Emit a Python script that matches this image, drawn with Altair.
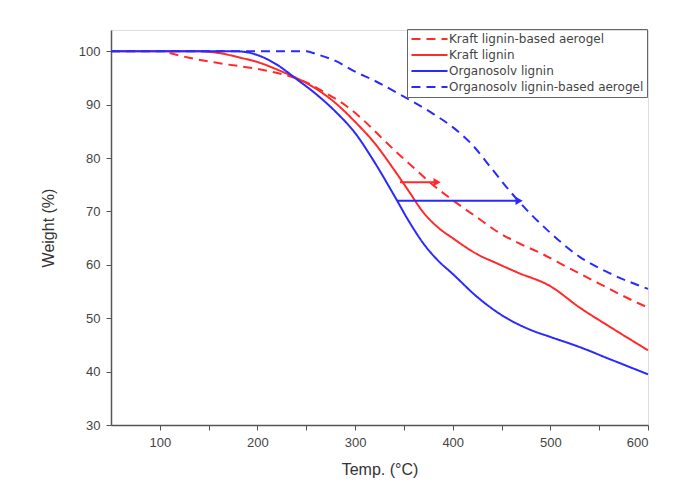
import altair as alt
import pandas as pd

series_names = ["Kraft lignin-based aerogel", "Kraft lignin", "Organosolv lignin", "Organosolv lignin-based aerogel"]
series_colors = ["#ff2a2a", "#ff2a2a", "#2a2aff", "#2a2aff"]
series_dash = [[9, 6], [1, 0], [1, 0], [9, 6]]

ka_x = [110, 130, 160, 200, 230, 250, 270, 290, 308, 325, 343, 360, 377, 395, 410, 428, 445, 466, 490, 517, 550, 589, 600]
ka_y = [99.7, 98.8, 97.8, 96.7, 95.5, 94.2, 92.2, 89.9, 87.2, 84.2, 81.0, 78.2, 75.4, 72.8, 70.8, 68.5, 66.3, 64.2, 62.2, 59.6, 56.5, 52.9, 52.0]

kl_x = [50, 140, 160, 185, 200, 220, 240, 260, 280, 300, 320, 340, 355, 370, 385, 400, 425, 445, 466, 500, 530, 560, 600]
kl_y = [100, 100, 99.7, 98.7, 98.0, 96.6, 95.0, 93.0, 90.3, 86.8, 82.8, 77.8, 73.8, 69.8, 67.0, 65.0, 62.0, 60.3, 58.6, 56.0, 52.0, 48.5, 44.0]

ol_x = [50, 100, 150, 180, 200, 220, 240, 260, 280, 300, 320, 340, 355, 370, 385, 400, 425, 450, 480, 500, 530, 560, 600]
ol_y = [100, 100, 100, 100, 99.3, 97.5, 94.8, 92.0, 88.7, 84.7, 79.2, 73.0, 68.2, 64.0, 60.8, 58.3, 54.0, 50.6, 47.8, 46.5, 44.6, 42.4, 39.5]

oa_x = [50, 200, 250, 260, 280, 300, 320, 350, 380, 400, 420, 440, 460, 480, 500, 530, 560, 600]
oa_y = [100, 100, 100, 99.5, 98.2, 96.2, 94.5, 91.5, 88.3, 85.8, 82.5, 78.0, 73.5, 69.5, 66.0, 61.5, 58.5, 55.5]

arrow_names = ["Kraft", "Organosolv"]
arrow_x_start = [346, 343]
arrow_x_end = [384, 468]
arrow_y = [75.5, 72.0]
arrow_colors = ["#ff2a2a", "#2a2aff"]

x_ticks = [100, 150, 200, 250, 300, 350, 400, 450, 500, 550, 600]
y_ticks = [30, 35, 40, 45, 50, 55, 60, 65, 70, 75, 80, 85, 90, 95, 100]

rows = []
for name, xs, ys in zip(series_names, [ka_x, kl_x, ol_x, oa_x], [ka_y, kl_y, ol_y, oa_y]):
    for i, (xv, yv) in enumerate(zip(xs, ys)):
        rows.append({"series": name, "temp": xv, "weight": yv, "order": i})
df = pd.DataFrame(rows)

arrows = pd.DataFrame({"name": arrow_names, "x1": arrow_x_start, "x2": arrow_x_end,
                       "y": arrow_y, "color": arrow_colors})

font = "Liberation Sans"
xscale = alt.Scale(domain=[50, 600], nice=False, zero=False)
yscale = alt.Scale(domain=[30, 104], nice=False, zero=False)

xaxis = alt.Axis(title="Temp. (°C)", values=x_ticks,
                 labelExpr="datum.value % 100 == 0 ? datum.label : ''",
                 grid=False, tickSize=5, labelFontSize=13, titleFontSize=16,
                 labelColor="#444", titleColor="#333", domainColor="#555", tickColor="#555",
                 labelPadding=6, titlePadding=12, labelFont=font, titleFont=font,
                 titleFontWeight="normal", domainWidth=1.5)
yaxis = alt.Axis(title="Weight (%)", values=y_ticks,
                 labelExpr="datum.value % 10 == 0 ? datum.label : ''",
                 grid=False, tickSize=5, labelFontSize=13, titleFontSize=16,
                 labelColor="#444", titleColor="#333", domainColor="#555", tickColor="#555",
                 labelPadding=6, titlePadding=22, labelFont=font, titleFont=font,
                 titleFontWeight="normal", domainWidth=1.5)

color_scale = alt.Scale(domain=series_names, range=series_colors)
dash_scale = alt.Scale(domain=series_names, range=series_dash)

legend = alt.Legend(title=None, orient="none", legendX=296, legendY=-1,
                    symbolType="stroke", symbolStrokeWidth=2, symbolSize=1300,
                    clipHeight=14, labelFontSize=12, labelFont="DejaVu Sans", labelColor="#444",
                    labelLimit=400, strokeColor="#666", padding=3, rowPadding=2,
                    labelOffset=0)

lines = alt.Chart(df).mark_line(strokeWidth=2, interpolate="monotone").encode(
    x=alt.X("temp:Q", scale=xscale, axis=xaxis),
    y=alt.Y("weight:Q", scale=yscale, axis=yaxis),
    color=alt.Color("series:N", scale=color_scale, legend=legend),
    strokeDash=alt.StrokeDash("series:N", scale=dash_scale, legend=legend),
    order="order:Q",
)

arrow_lines = alt.Chart(arrows).mark_rule(strokeWidth=2).encode(
    x=alt.X("x1:Q", scale=xscale),
    x2="x2:Q",
    y=alt.Y("y:Q", scale=yscale),
    color=alt.Color("color:N", scale=None),
)

arrow_heads = alt.Chart(arrows).mark_point(shape="triangle-right", filled=True, size=70, opacity=1).encode(
    x=alt.X("x2:Q", scale=xscale),
    y=alt.Y("y:Q", scale=yscale),
    color=alt.Color("color:N", scale=None),
)

chart = alt.layer(lines, arrow_lines, arrow_heads).properties(
    width=537, height=395,
    autosize=alt.AutoSizeParams(type="none"),
    padding={"left": 111, "top": 30, "right": 26, "bottom": 75},
).configure_view(stroke=None).configure(background="white")

chart.save("out.html", embed_options={"renderer": "svg", "actions": False})
